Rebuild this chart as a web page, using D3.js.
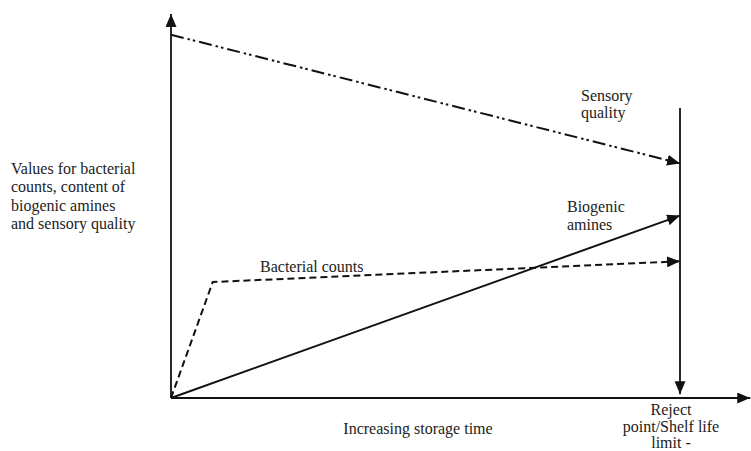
<!DOCTYPE html>
<html>
<head>
<meta charset="utf-8">
<script src="https://cdn.jsdelivr.net/npm/d3@7"></script>
</head>
<body style="margin:0; background:#fff">
<div id="chart"></div>
<script>
// storage time runs 0..100 with the reject point at 100; values are relative 0..100
const sensoryTime = [0, 100]
const sensoryValues = [94.6, 61.1]
const amineTime = [0, 100]
const amineValues = [0, 47.5]
const bacteriaTime = [0, 8.2, 100]
const bacteriaValues = [0, 30.2, 35.6]

const yLabelLines = ["Values for bacterial", "counts, content of", "biogenic amines", "and sensory quality"]
const rejectLines = ["Reject", "point/Shelf life", "limit  -"]

let width = 751, height = 451
let svg = d3.select("#chart").append("svg")
    .attr("width", width)
    .attr("height", height)

let x = d3.scaleLinear().domain([0, 100]).range([171, 680])
let y = d3.scaleLinear().domain([0, 100]).range([398, 14])

// arrow head
svg.append("defs").append("marker")
    .attr("id", "arrow")
    .attr("viewBox", "0 0 13 11")
    .attr("refX", 13).attr("refY", 5.5)
    .attr("markerWidth", 13).attr("markerHeight", 11)
    .attr("markerUnits", "userSpaceOnUse")
    .attr("orient", "auto")
    .append("path")
    .attr("d", "M0,0 L13,5.5 L0,11 Z")
    .attr("fill", "#111")

// axes
svg.append("line")
    .attr("x1", x(0)).attr("y1", y(0))
    .attr("x2", x(0)).attr("y2", y(100))
    .attr("stroke", "#111").attr("stroke-width", 1.8)
    .attr("marker-end", "url(#arrow)")
svg.append("line")
    .attr("x1", x(0)).attr("y1", y(0))
    .attr("x2", x(113.8)).attr("y2", y(0))
    .attr("stroke", "#111").attr("stroke-width", 1.8)
    .attr("marker-end", "url(#arrow)")

// reject point line, arrow pointing down onto the time axis
svg.append("line")
    .attr("x1", x(100)).attr("y1", y(75.5))
    .attr("x2", x(100)).attr("y2", y(1))
    .attr("stroke", "#111").attr("stroke-width", 1.8)
    .attr("marker-end", "url(#arrow)")

let line = d3.line()
    .x(d => x(d[0]))
    .y(d => y(d[1]))

let series = [
    { pts: d3.zip(sensoryTime, sensoryValues), dash: "13,4,2.5,3,2.5,4" },
    { pts: d3.zip(amineTime, amineValues), dash: null },
    { pts: d3.zip(bacteriaTime, bacteriaValues), dash: "7,4" }
]

svg.selectAll(".series")
    .data(series)
    .enter().append("path")
    .attr("class", "series")
    .attr("d", d => line(d.pts))
    .attr("fill", "none")
    .attr("stroke", "#111")
    .attr("stroke-width", 2)
    .attr("stroke-dasharray", d => d.dash)
    .attr("marker-end", "url(#arrow)")

// labels
const font = "Liberation Serif"
function label(tx, ty, str, anchor) {
    return svg.append("text")
        .attr("x", tx).attr("y", ty)
        .attr("font-family", font).attr("font-size", 16)
        .attr("fill", "#222")
        .attr("text-anchor", anchor || "start")
        .text(str)
}

yLabelLines.forEach((s, i) => label(11, 174 + i * 18.3, s))

label(581, 101, "Sensory")
label(581, 118, "quality")
label(567, 212, "Biogenic")
label(567, 230, "amines")
label(260, 272, "Bacterial counts")
label(418, 434, "Increasing storage time", "middle")

rejectLines.forEach((s, i) => label(671, 415 + i * 16.5, s, "middle"))
</script>
</body>
</html>
